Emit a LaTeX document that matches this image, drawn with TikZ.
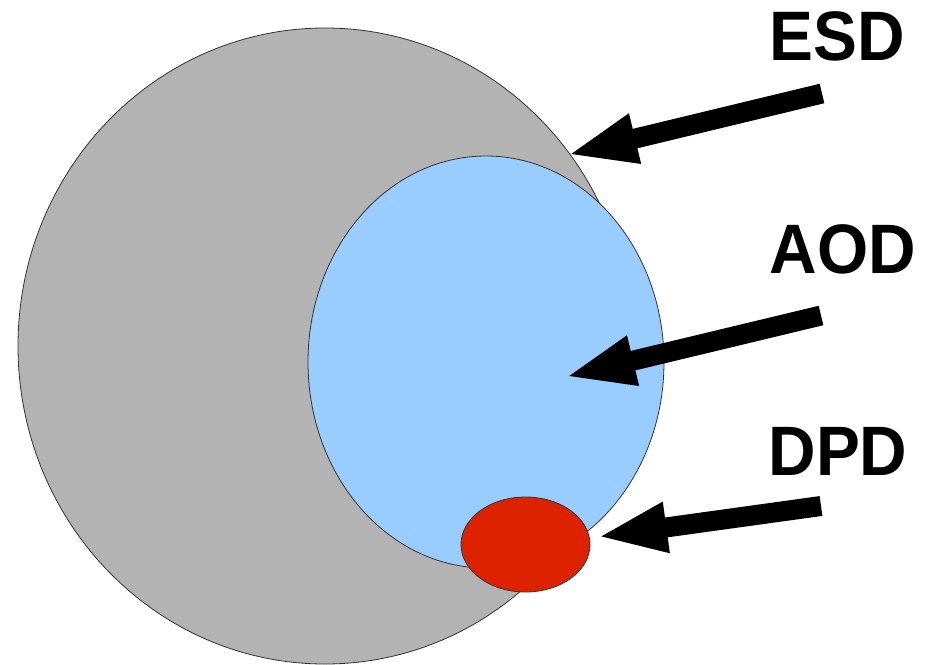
\documentclass[tikz,border=0pt]{standalone}
\usepackage{fontspec}
\setmainfont{Liberation Sans}
\usetikzlibrary{shapes.geometric,arrows.meta}
\definecolor{esdgray}{HTML}{B3B3B3}
\definecolor{aodblue}{HTML}{99CCFF}
\definecolor{dpdred}{HTML}{DD2200}
\definecolor{rim}{HTML}{333333}
\tikzset{
  blob/.style={ellipse, draw=rim, line width=0.8pt, inner sep=0pt, outer sep=0pt},
  tag/.style={font=\bfseries\fontsize{70}{70}\selectfont, inner sep=0pt, xscale=0.94},
  pointer/.style={line width=20pt, -{Triangle[length=70pt,width=46pt]}}
}
\begin{document}
\begin{tikzpicture}[x=1pt,y=-1pt]
  \useasboundingbox (0,0) rectangle (928,664);
  \fill[white] (0,0) rectangle (928,664);

  % nested data tiers
  \node[blob, fill=esdgray, minimum width=614pt, minimum height=636pt] (esd) at (325,346) {};
  \node[blob, fill=aodblue, minimum width=356pt, minimum height=412pt] (aod) at (486,362) {};
  \node[blob, fill=dpdred, minimum width=129pt, minimum height=95pt] (dpd) at (525.5,544.5) {};

  % labels
  \node[tag] (lesd) at (837.5,36) {ESD};
  \node[tag] (laod) at (843,249) {AOD};
  \node[tag] (ldpd) at (838,451) {DPD};

  % arrow ends
  \coordinate (sesd) at (822,93.5);
  \coordinate (tesd) at (567,155);
  \coordinate (saod) at (821,315.5);
  \coordinate (taod) at (565,377);
  \coordinate (sdpd) at (821,506);
  \coordinate (tdpd) at (597,537);

  \draw[pointer] (sesd) -- (tesd);
  \draw[pointer] (saod) -- (taod);
  \draw[pointer] (sdpd) -- (tdpd);
\end{tikzpicture}
\end{document}
